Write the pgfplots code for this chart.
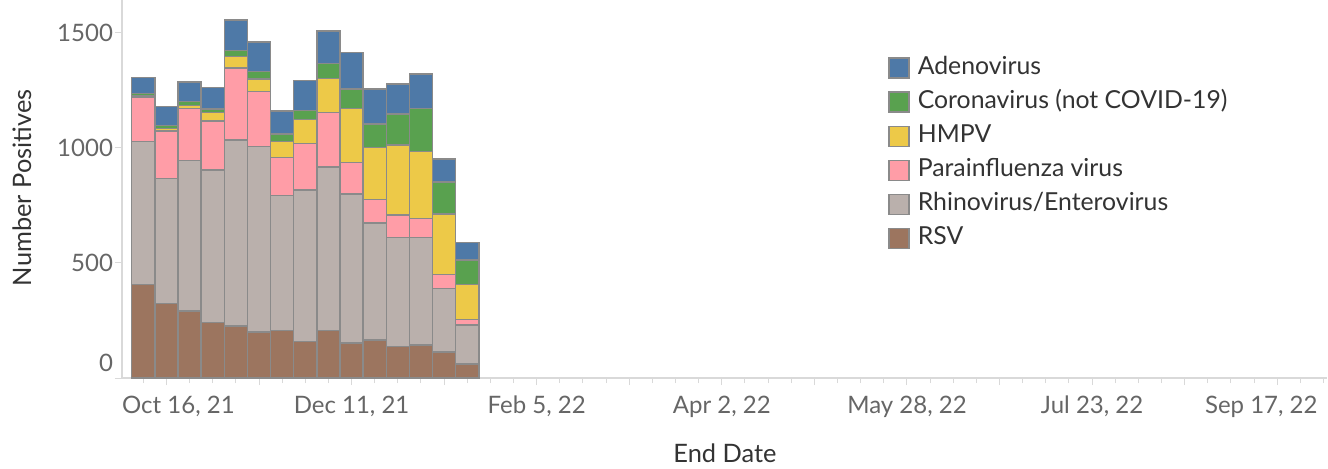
\documentclass[border=0pt]{standalone}
\usepackage{fontspec}
\setmainfont{Lato}
\usepackage{pgfplots}
\pgfplotsset{compat=1.18}
\usepackage{pgfplotstable}

\definecolor{cAdeno}{HTML}{4E79A7}
\definecolor{cCorona}{HTML}{59A14F}
\definecolor{cHMPV}{HTML}{EDC948}
\definecolor{cPara}{HTML}{FF9DA7}
\definecolor{cRhino}{HTML}{BAB0AC}
\definecolor{cRSV}{HTML}{9C755F}
\definecolor{edge}{HTML}{8A8A8A}
\definecolor{ticktext}{HTML}{666666}
\definecolor{titletext}{HTML}{333333}
\definecolor{axisgray}{HTML}{D9D9D9}

% week index: 0 = Oct 9, 21 ; 1 = Oct 16, 21 ; ...
\pgfplotstableread{
i rsv rhino para hmpv corona adeno
0 407 619 193 7 10 68
1 324 543 205 12 12 82
2 291 653 227 13 16 84
3 240 662 214 36 16 94
4 226 807 312 50 26 133
5 200 804 239 54 34 127
6 206 586 165 69 34 99
7 158 658 203 104 38 130
8 206 709 237 149 65 141
9 151 647 137 236 84 159
10 165 509 102 224 103 152
11 136 473 99 304 134 131
12 143 466 84 290 188 148
13 112 277 61 262 140 98
14 61 169 25 152 105 76
}\datatable

\begin{document}
\begin{tikzpicture}
\useasboundingbox (-61pt,-45pt) rectangle (603pt,189pt);
\begin{axis}[
  at={(0,0)}, anchor=south west,
  scale only axis, width=602.5pt, height=189pt,
  xmin=-0.92, xmax=51.15, ymin=0, ymax=1641,
  ybar stacked, bar width=1,
  axis x line*=bottom, axis y line*=left,
  axis line style={draw=axisgray, line width=0.6pt},
  tick style={draw=axisgray, line width=0.5pt},
  tick align=outside,
  major tick length=3.5pt, minor tick length=2.5pt,
  xtick={1,5,...,49},
  minor xtick={0,1,...,51},
  xticklabels={{\hspace*{12pt}Oct 16, 21},{},{Dec 11, 21},{},{Feb 5, 22},{},{Apr 2, 22},{},{May 28, 22},{},{Jul 23, 22},{},{Sep 17, 22\hspace*{16pt}}},
  ytick={0,500,1000,1500},
  yticklabels={\raisebox{15pt}{0},500,1000,1500},
  ticklabel style={font=\fontsize{12}{14}\selectfont, text=ticktext},
  xticklabel style={text height=8.5pt, text depth=2.5pt, anchor=north, yshift=-2pt},
  yticklabel style={anchor=east, xshift=2.5pt},
  xlabel={End Date}, ylabel={Number Positives},
  every axis x label/.style={at={(axis description cs:0.5004,-0.198)}, anchor=center, font=\fontsize{12.7}{15}\selectfont, text=titletext},
  every axis y label/.style={at={(axis description cs:-0.083,0.503)}, rotate=90, anchor=center, font=\fontsize{12.7}{15}\selectfont, text=titletext},
  reverse legend,
  legend cell align=left,
  legend image code/.code={\draw[#1, line width=0.7pt] (0pt,-5pt) rectangle (10pt,5pt);},
  legend style={at={(rel axis cs:0.6357,0.858)}, anchor=north west, draw=none, fill=none, inner sep=0pt, row sep=3.05pt, column sep=3pt,
    font=\fontsize{12.4}{14}\selectfont, text=titletext,
    nodes={inner sep=1pt, text height=9pt, text depth=3pt}},
  every axis plot/.append style={draw=edge, line width=0.75pt},
]
\addplot[fill=cRSV] table[x=i,y=rsv]{\datatable};
\addlegendentry{RSV}
\addplot[fill=cRhino] table[x=i,y=rhino]{\datatable};
\addlegendentry{Rhinovirus/Enterovirus}
\addplot[fill=cPara] table[x=i,y=para]{\datatable};
\addlegendentry{Parainfluenza virus}
\addplot[fill=cHMPV] table[x=i,y=hmpv]{\datatable};
\addlegendentry{HMPV}
\addplot[fill=cCorona] table[x=i,y=corona]{\datatable};
\addlegendentry{Coronavirus (not COVID-19)}
\addplot[fill=cAdeno] table[x=i,y=adeno]{\datatable};
\addlegendentry{Adenovirus}
\end{axis}
\end{tikzpicture}
\end{document}
